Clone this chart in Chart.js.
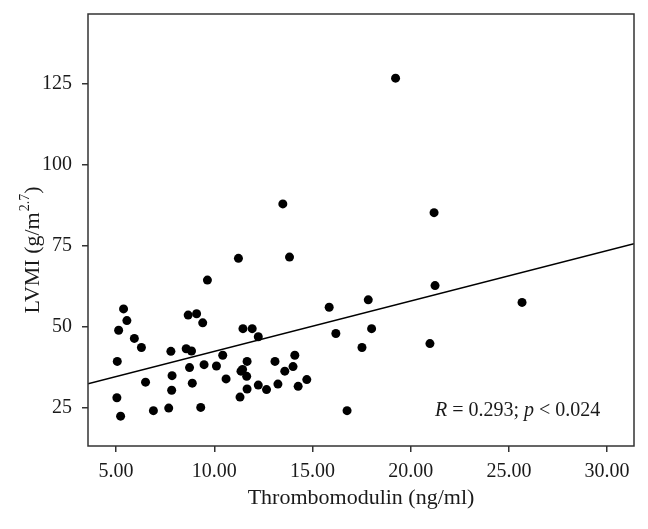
<!DOCTYPE html>
<html>
<head>
<meta charset="utf-8">
<script src="https://cdn.jsdelivr.net/npm/chart.js@4"></script>
<style>
  html, body { margin: 0; padding: 0; background: #fff; }
  #wrap { width: 648px; height: 529px; }
</style>
</head>
<body>
<div id="wrap"><canvas id="chart"></canvas></div>
<script>
// tick positions
const xTicks = [5, 10, 15, 20, 25, 30];
const yTicks = [25, 50, 75, 100, 125];

// Thrombomodulin (ng/ml) and LVMI
const tmValues = [19.23, 13.49, 21.19, 11.23, 13.83, 9.65, 21.24, 17.84, 25.67, 15.85,
  5.38, 5.55, 8.67, 9.10, 9.41, 5.13, 11.46, 11.93, 18.01, 12.24,
  16.19, 5.93, 6.29, 17.52, 20.98, 8.57, 8.84, 7.79, 10.43, 14.10,
  5.06, 11.67, 13.09, 8.74, 9.48, 10.11, 14.01, 11.36, 11.44, 13.59,
  7.85, 11.65, 10.60, 14.71, 6.50, 8.88, 13.24, 12.24, 14.27, 11.67,
  12.66, 7.83, 11.31, 5.04, 9.31, 7.68, 6.90, 16.76, 5.23];
const lvmiValues = [126.8, 88.0, 85.3, 71.2, 71.6, 64.5, 62.8, 58.4, 57.6, 56.1,
  55.6, 52.0, 53.7, 54.1, 51.3, 49.0, 49.5, 49.5, 49.5, 47.0,
  48.0, 46.5, 43.7, 43.7, 44.9, 43.3, 42.6, 42.5, 41.3, 41.3,
  39.4, 39.4, 39.4, 37.5, 38.4, 38.0, 37.8, 36.4, 36.9, 36.4,
  35.0, 34.8, 34.0, 33.8, 33.0, 32.7, 32.4, 32.1, 31.7, 30.9,
  30.7, 30.5, 28.4, 28.2, 25.2, 25.0, 24.2, 24.2, 22.5];

// fit line ends (at the frame edges)
const fitX = [3.57, 31.37];
const fitY = [32.5, 75.7];

const FONT = '"Liberation Serif", "Times New Roman", serif';
const INK = '#1a1a1a';

// 枠線・軸タイトル・注記
const extras = {
  id: 'extras',
  afterDraw(chart) {
    const { ctx, chartArea: a } = chart;
    ctx.save();
    ctx.strokeStyle = '#333';
    ctx.lineWidth = 1.5;
    ctx.strokeRect(a.left, a.top, a.right - a.left, a.bottom - a.top);

    ctx.fillStyle = INK;
    ctx.textBaseline = 'alphabetic';

    // x title
    ctx.font = '22px ' + FONT;
    ctx.textAlign = 'center';
    ctx.fillText('Thrombomodulin (ng/ml)', (a.left + a.right) / 2, 504);

    // y title with superscript
    ctx.textAlign = 'left';
    ctx.translate(32, 250);
    ctx.rotate(-Math.PI / 2);
    const main = 'LVMI (g/m', sup = '2.7', close = ')';
    ctx.font = '22px ' + FONT;
    const w1 = ctx.measureText(main).width;
    const w3 = ctx.measureText(close).width;
    ctx.font = '14px ' + FONT;
    const w2 = ctx.measureText(sup).width + 1;
    let x0 = -(w1 + w2 + w3) / 2;
    ctx.font = '22px ' + FONT;
    ctx.fillText(main, x0, 7);
    ctx.font = '14px ' + FONT;
    ctx.fillText(sup, x0 + w1 + 1, -3);
    ctx.font = '22px ' + FONT;
    ctx.fillText(close, x0 + w1 + w2, 7);
    ctx.restore();

    // R / p note
    ctx.save();
    ctx.fillStyle = INK;
    ctx.textBaseline = 'alphabetic';
    let x = 435;
    const y = 416;
    const parts = [['R', true], [' = 0.293; ', false], ['p', true], [' < 0.024', false]];
    parts.forEach(([t, it]) => {
      ctx.font = (it ? 'italic ' : '') + '20px ' + FONT;
      ctx.fillText(t, x, y);
      x += ctx.measureText(t).width;
    });
    ctx.restore();
  }
};

const points = tmValues.map((v, i) => ({ x: v, y: lvmiValues[i] }));
const fitLine = fitX.map((v, i) => ({ x: v, y: fitY[i] }));

new Chart(document.getElementById('chart'), {
  type: 'scatter',
  data: {
    datasets: [
      {
        data: points,
        backgroundColor: '#000',
        borderWidth: 0,
        pointRadius: 4.5
      },
      {
        type: 'line',
        data: fitLine,
        borderColor: '#000',
        borderWidth: 1.6,
        pointRadius: 0,
        fill: false
      }
    ]
  },
  options: {
    responsive: true,
    maintainAspectRatio: false,
    animation: false,
    layout: { padding: { top: 14, right: 14, left: 0, bottom: 0 } },
    plugins: {
      legend: { display: false },
      tooltip: { enabled: false }
    },
    scales: {
      x: {
        type: 'linear',
        min: 3.57,
        max: 31.37,
        afterBuildTicks: (s) => { s.ticks = xTicks.map((v) => ({ value: v })); },
        afterFit: (s) => {
          s.height = 83;
          s.paddingLeft = 0;
          s.paddingRight = 0;
        },
        border: { display: false },
        grid: { drawOnChartArea: false, drawTicks: true, tickLength: 6, color: '#333', lineWidth: 1.5 },
        ticks: {
          color: INK,
          padding: 8,
          maxRotation: 0,
          font: { family: FONT, size: 20 },
          callback: (v) => Number(v).toFixed(2)
        }
      },
      y: {
        type: 'linear',
        min: 13.3,
        max: 146.6,
        afterBuildTicks: (s) => { s.ticks = yTicks.map((v) => ({ value: v })); },
        afterFit: (s) => {
          s.width = 88;
          s.paddingTop = 0;
          s.paddingBottom = 0;
        },
        border: { display: false },
        grid: { drawOnChartArea: false, drawTicks: true, tickLength: 6, color: '#333', lineWidth: 1.5 },
        ticks: {
          color: INK,
          padding: 10,
          font: { family: FONT, size: 20 }
        }
      }
    }
  },
  plugins: [extras]
});
</script>
</body>
</html>
